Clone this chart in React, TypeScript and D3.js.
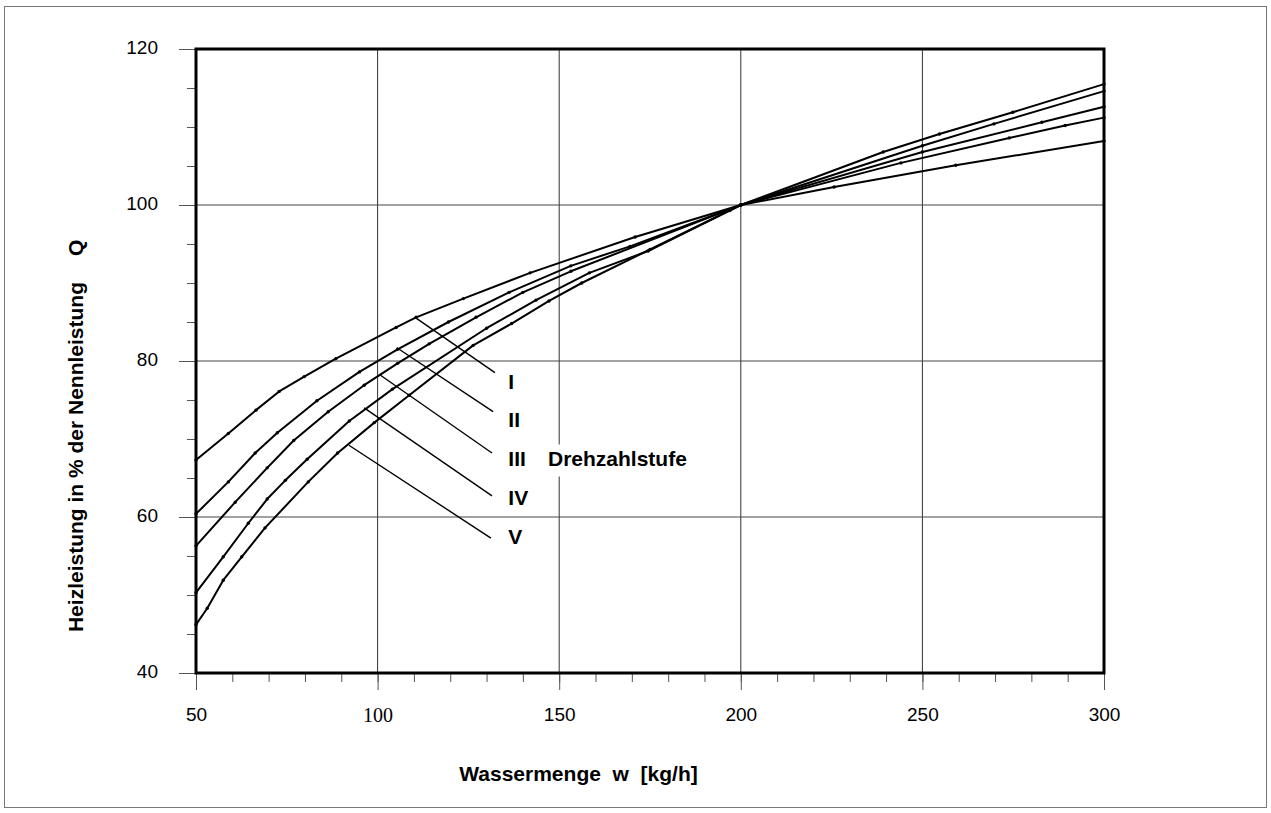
import React, { useEffect, useRef } from "react";
import * as d3 from "d3";

// Drehzahlstufen I..V, Messpunkte (w in kg/h, Q in %)
const stufen = ["I", "II", "III", "IV", "V"];

const wI = [50, 58.9, 66.5, 72.9, 79.8, 88.5, 105.1, 110.6, 123.6, 142, 170.9, 200, 225.7, 259.2, 300];
const qI = [67.3, 70.7, 73.7, 76.1, 78.0, 80.3, 84.3, 85.6, 88.0, 91.3, 95.9, 100, 102.3, 105.1, 108.2];

const wII = [50, 58.9, 66.3, 72.4, 83.3, 95, 105.5, 119.5, 136.2, 153.2, 169.5, 200, 244.1, 273.9, 289.3, 300];
const qII = [60.4, 64.5, 68.2, 70.8, 74.9, 78.6, 81.5, 85.0, 88.8, 92.2, 94.7, 100, 105.4, 108.6, 110.2, 111.2];

const wIII = [50, 60.8, 69.6, 76.9, 86.4, 96.3, 105.5, 114.2, 127.1, 140, 153.2, 200, 250, 282.9, 300];
const qIII = [56.3, 61.9, 66.3, 69.8, 73.5, 76.9, 79.7, 82.2, 85.6, 88.8, 91.5, 100, 106.8, 110.6, 112.6];

const wIV = [50, 57.5, 64.4, 69.6, 74.6, 80.6, 92.2, 104.1, 130, 143.6, 158.3, 174.5, 200, 250, 269.7, 300];
const qIV = [50.3, 54.9, 59.2, 62.3, 64.7, 67.4, 72.3, 76.4, 84.2, 87.8, 91.3, 94.1, 100, 107.6, 110.4, 114.6];

const wV = [50, 53.1, 57.5, 62.6, 69, 80.9, 89, 99.1, 108.7, 126.3, 136.9, 147.2, 156.2, 175, 197, 200, 239.2, 254.7, 274.9, 300];
const qV = [46.2, 48.3, 51.9, 54.9, 58.6, 64.5, 68.2, 72.1, 75.6, 82.0, 84.8, 87.7, 90.0, 94.3, 99.3, 100, 106.8, 109.1, 111.9, 115.5];

const seriesW = [wI, wII, wIII, wIV, wV];
const seriesQ = [qI, qII, qIII, qIV, qV];

// Hinweislinien (Start auf der Kurve, Ende beim Label)
const leaderFromW = [110.6, 105.3, 100.4, 96.3, 92.1];
const leaderFromQ = [85.5, 81.7, 78.3, 74.0, 69.2];
const leaderToW = [132.3, 131.8, 131.5, 131.5, 131.2];
const leaderToQ = [78.5, 73.5, 68.2, 62.7, 57.3];
const labelW = [136, 136, 136, 136, 136];
const labelQ = [76.4, 71.6, 66.6, 61.5, 56.6];

const xTicks = [50, 100, 150, 200, 250, 300];
const yTicks = [40, 60, 80, 100, 120];
const xGrid = [100, 150, 200, 250];
const yGrid = [60, 80, 100];

const App = () => {
  const svgRef = useRef<SVGSVGElement>(null);
  const width = 1271;
  const height = 813;

  useEffect(() => {
    const svg = d3.select(svgRef.current);
    svg.selectAll("*").remove();
    const font = "Arial, 'Liberation Sans', sans-serif";

    const x = d3.scaleLinear().domain([50, 300]).range([196, 1104]);
    const y = d3.scaleLinear().domain([40, 120]).range([673, 49]);

    // outer frame
    svg
      .append("rect")
      .attr("x", 4.5)
      .attr("y", 6.5)
      .attr("width", 1262)
      .attr("height", 801)
      .attr("fill", "none")
      .attr("stroke", "#777")
      .attr("stroke-width", 1);

    // grid
    svg
      .append("g")
      .selectAll("line")
      .data(xGrid)
      .join("line")
      .attr("x1", (d) => x(d))
      .attr("x2", (d) => x(d))
      .attr("y1", y(120))
      .attr("y2", y(40))
      .attr("stroke", "#333")
      .attr("stroke-width", 1);

    svg
      .append("g")
      .selectAll("line")
      .data(yGrid)
      .join("line")
      .attr("x1", x(50))
      .attr("x2", x(300))
      .attr("y1", (d) => y(d))
      .attr("y2", (d) => y(d))
      .attr("stroke", "#444")
      .attr("stroke-width", 1.2);

    // minor ticks
    const xMinor = d3.axisBottom(x).tickValues(d3.range(50, 301, 10)).tickSize(9).tickFormat(() => "");
    const yMinor = d3.axisLeft(y).tickValues(d3.range(40, 121, 5)).tickSize(9).tickFormat(() => "");
    svg.append("g").attr("transform", `translate(0, ${y(40)})`).call(xMinor);
    svg.append("g").attr("transform", `translate(${x(50)}, 0)`).call(yMinor);

    // major ticks + labels
    const xAxis = d3.axisBottom(x).tickValues(xTicks).tickSize(17).tickPadding(18).tickFormat(d3.format("d"));
    const yAxis = d3.axisLeft(y).tickValues(yTicks).tickSize(17).tickPadding(21).tickFormat(d3.format("d"));
    const gx = svg.append("g").attr("transform", `translate(0, ${y(40)})`).call(xAxis);
    const gy = svg.append("g").attr("transform", `translate(${x(50)}, 0)`).call(yAxis);

    [gx, gy].forEach((g) => {
      g.selectAll("text")
        .attr("font-family", font)
        .attr("font-size", 19)
        .attr("fill", "black");
    });
    svg.selectAll(".tick line").attr("stroke", "#555");
    svg.selectAll(".domain").remove();
    gy.selectAll("text").attr("dy", "0.22em");
    gx.selectAll("text")
      .filter((d) => d === 100)
      .attr("font-family", "'Times New Roman', 'Liberation Serif', serif")
      .attr("font-size", 20);

    // plot frame
    svg
      .append("rect")
      .attr("x", x(50))
      .attr("y", y(120))
      .attr("width", x(300) - x(50))
      .attr("height", y(40) - y(120))
      .attr("fill", "none")
      .attr("stroke", "black")
      .attr("stroke-width", 3);

    // curves with measuring points
    seriesW.forEach((ws, k) => {
      const pts: [number, number][] = ws.map((w, i) => [x(w), y(seriesQ[k][i])]);
      svg
        .append("path")
        .attr("d", d3.line()(pts))
        .attr("fill", "none")
        .attr("stroke", "black")
        .attr("stroke-width", 2)
        .attr("stroke-linejoin", "round");
      svg
        .append("g")
        .selectAll("circle")
        .data(pts)
        .join("circle")
        .attr("cx", (d) => d[0])
        .attr("cy", (d) => d[1])
        .attr("r", 1.7)
        .attr("fill", "black");
    });

    // leader lines + labels
    svg
      .append("g")
      .selectAll("line")
      .data(stufen)
      .join("line")
      .attr("x1", (d, i) => x(leaderFromW[i]))
      .attr("y1", (d, i) => y(leaderFromQ[i]))
      .attr("x2", (d, i) => x(leaderToW[i]))
      .attr("y2", (d, i) => y(leaderToQ[i]))
      .attr("stroke", "black")
      .attr("stroke-width", 1.4);

    svg
      .append("g")
      .selectAll("text")
      .data(stufen)
      .join("text")
      .attr("x", (d, i) => x(labelW[i]))
      .attr("y", (d, i) => y(labelQ[i]))
      .attr("font-family", font)
      .attr("font-weight", "bold")
      .attr("font-size", 21)
      .text((d) => d);

    // Drehzahlstufe, with white box over the grid
    svg
      .append("rect")
      .attr("x", 541)
      .attr("y", y(labelQ[2]) - 21)
      .attr("width", 152)
      .attr("height", 32)
      .attr("fill", "white");
    svg
      .append("text")
      .attr("x", 548)
      .attr("y", y(labelQ[2]))
      .attr("font-family", font)
      .attr("font-weight", "bold")
      .attr("font-size", 21)
      .text("Drehzahlstufe");

    // axis titles
    svg
      .append("text")
      .attr("x", 578.5)
      .attr("y", 781)
      .attr("text-anchor", "middle")
      .attr("font-family", font)
      .attr("font-weight", "bold")
      .attr("font-size", 21)
      .attr("style", "white-space: pre")
      .text("Wassermenge  w  [kg/h]");

    svg
      .append("text")
      .attr("transform", "translate(83, 282) rotate(-90)")
      .attr("text-anchor", "end")
      .attr("font-family", font)
      .attr("font-weight", "bold")
      .attr("font-size", 21)
      .text("Heizleistung in % der Nennleistung");

    svg
      .append("text")
      .attr("transform", "translate(83, 256) rotate(-90)")
      .attr("text-anchor", "start")
      .attr("font-family", font)
      .attr("font-weight", "bold")
      .attr("font-size", 21)
      .text("Q");
  }, []);

  return (
    <svg
      ref={svgRef}
      width={width}
      height={height}
      style={{ position: "absolute", left: 0, top: 0, background: "white" }}
    ></svg>
  );
};

export default App;
